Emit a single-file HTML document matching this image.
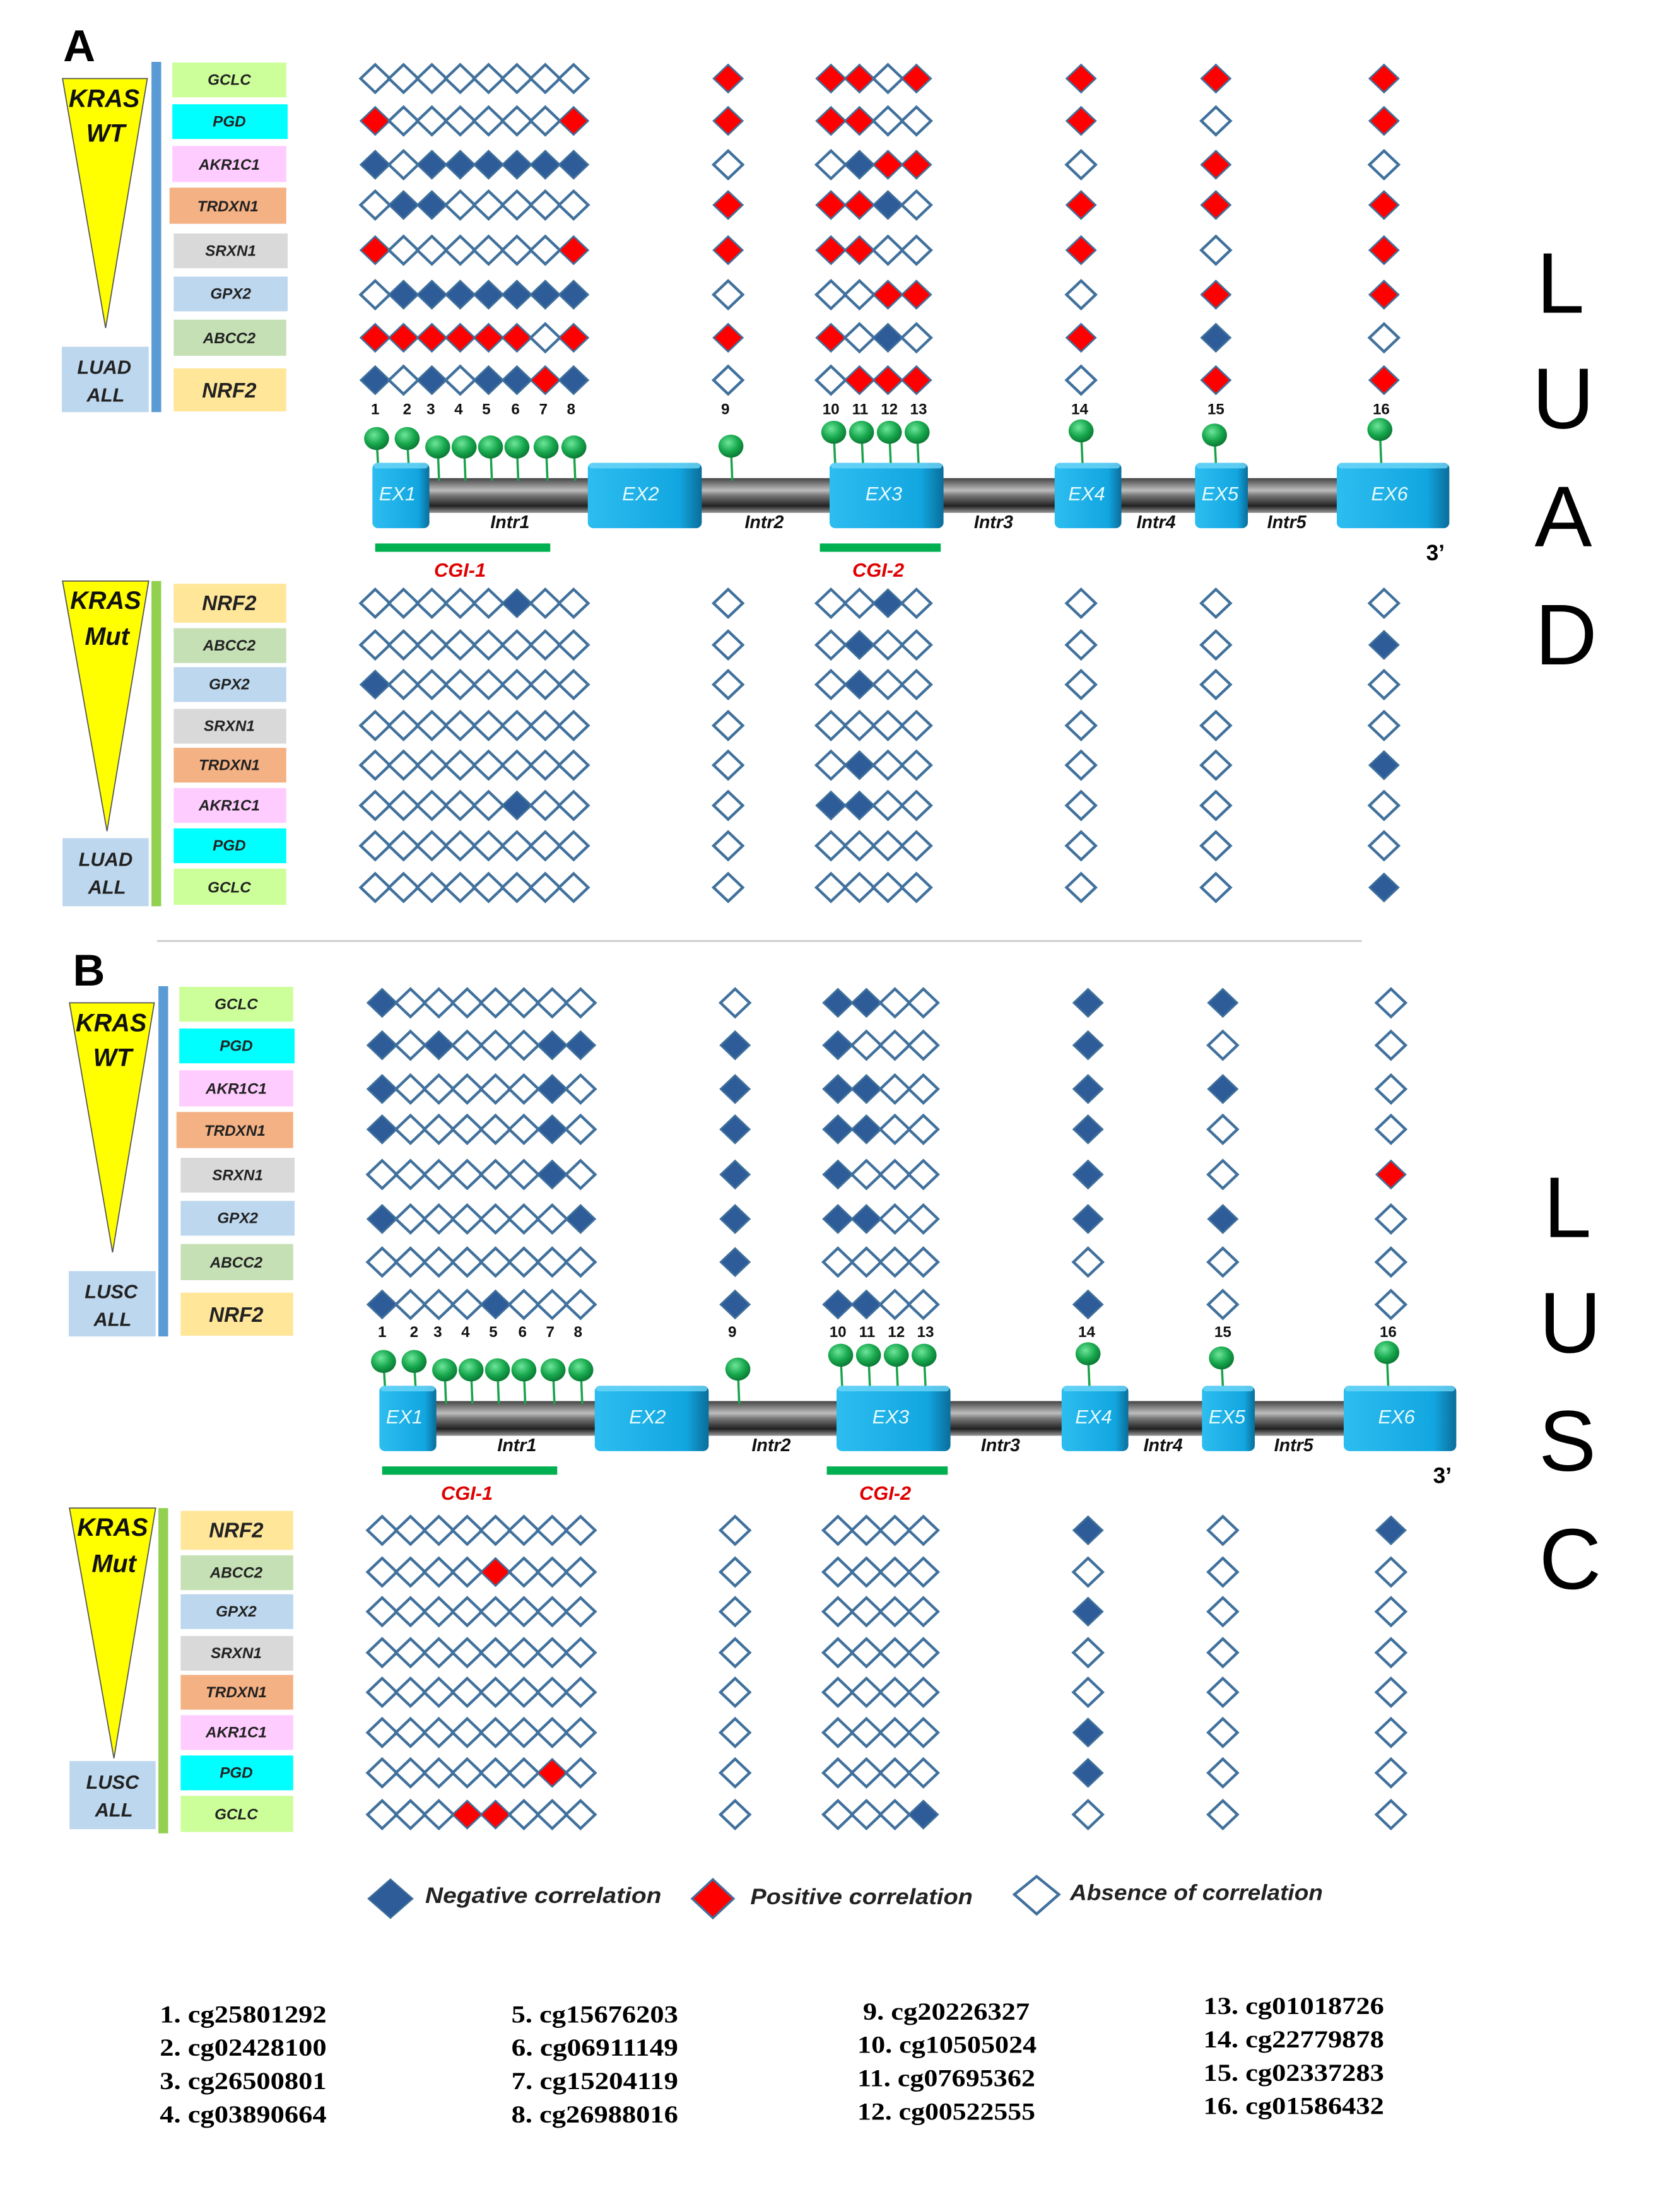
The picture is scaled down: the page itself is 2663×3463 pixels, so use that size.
<!DOCTYPE html>
<html><head><meta charset="utf-8">
<style>
html,body{margin:0;padding:0;background:#fff;}
svg{display:block;}
text{font-family:"Liberation Sans",sans-serif;}
.g{font-weight:bold;font-style:italic;font-size:11px;fill:#222;text-anchor:middle;}
.gb{font-weight:bold;font-style:italic;font-size:15px;fill:#222;text-anchor:middle;}
.num{font-weight:bold;font-size:11px;fill:#111;text-anchor:middle;}
.ex{font-style:italic;font-size:14px;fill:#e6fbff;text-anchor:middle;}
.in{font-weight:bold;font-style:italic;font-size:13px;fill:#111;text-anchor:middle;}
.cgi{font-weight:bold;font-style:italic;font-size:14px;fill:#e00000;text-anchor:middle;}
.tri{font-weight:bold;font-style:italic;font-size:18px;fill:#111;text-anchor:middle;}
.all{font-weight:bold;font-style:italic;font-size:14px;fill:#222;text-anchor:middle;}
.big{font-size:62px;fill:#000;text-anchor:middle;}
.leg{font-weight:bold;font-style:italic;font-size:16px;fill:#222;}
.cg{font-family:"Liberation Serif",serif;font-weight:bold;font-size:18px;fill:#000;}
</style></head>
<body>
<svg id="s" width="2663" height="3463" viewBox="0 0 1209 1572" preserveAspectRatio="none" xmlns="http://www.w3.org/2000/svg">
<defs>
<linearGradient id="bar" x1="0" y1="0" x2="0" y2="1">
<stop offset="0" stop-color="#444"/><stop offset="0.35" stop-color="#bdbdbd"/><stop offset="0.5" stop-color="#777"/><stop offset="0.8" stop-color="#222"/><stop offset="1" stop-color="#999"/></linearGradient>
<linearGradient id="exg" x1="0" y1="0" x2="1" y2="0">
<stop offset="0" stop-color="#2dbdf0"/><stop offset="0.8" stop-color="#12a6e0"/><stop offset="1" stop-color="#0a6d9a"/></linearGradient>
<radialGradient id="head" cx="0.4" cy="0.35" r="0.65">
<stop offset="0" stop-color="#6ee69a"/><stop offset="0.6" stop-color="#18a84e"/><stop offset="1" stop-color="#0b7a35"/></radialGradient>
</defs>
<rect width="1209" height="1572" fill="#fff"/>

<g id="pA">
<text x="57" y="44" style="font-weight:bold;font-size:32px;text-anchor:middle">A</text>
<polygon points="45,56.5 106,56.5 76,236" fill="#ffff00" stroke="#555" stroke-width="0.8"/>
<text class="tri" x="75" y="77">KRAS</text>
<text class="tri" x="76" y="102">WT</text>
<rect x="109" y="44.5" width="7" height="252" fill="#5b9bd5"/>
<rect x="44.5" y="249.5" width="62.5" height="47" fill="#bdd7ee"/>
<text class="all" x="75" y="269">LUAD</text><text class="all" x="76" y="289">ALL</text>
<rect x="124" y="45" width="82" height="25" fill="#ccff99"/><text class="g" x="165" y="61">GCLC</text>
<rect x="124" y="75" width="83" height="25" fill="#00ffff"/><text class="g" x="165" y="91">PGD</text>
<rect x="124" y="105" width="82" height="26" fill="#ffccff"/><text class="g" x="165" y="122">AKR1C1</text>
<rect x="122" y="135" width="84" height="26" fill="#f4b183"/><text class="g" x="164" y="152">TRDXN1</text>
<rect x="125" y="168" width="82" height="25" fill="#d9d9d9"/><text class="g" x="166" y="184">SRXN1</text>
<rect x="125" y="199" width="82" height="25" fill="#bdd7ee"/><text class="g" x="166" y="215">GPX2</text>
<rect x="125" y="230" width="81" height="26" fill="#c5e0b4"/><text class="g" x="165" y="247">ABCC2</text>
<rect x="125" y="265" width="81" height="31" fill="#ffe699"/><text class="gb" x="165" y="286">NRF2</text>
<polygon points="45,418 107,418 77,598" fill="#ffff00" stroke="#555" stroke-width="0.8"/>
<text class="tri" x="76" y="438">KRAS</text>
<text class="tri" x="77" y="464">Mut</text>
<rect x="109" y="418" width="7" height="234" fill="#92d050"/>
<rect x="45" y="603" width="62" height="49" fill="#bdd7ee"/>
<text class="all" x="76" y="623">LUAD</text><text class="all" x="77" y="643">ALL</text>
<rect x="125" y="420" width="81" height="28" fill="#ffe699"/><text class="gb" x="165" y="439">NRF2</text>
<rect x="125" y="452" width="81" height="25" fill="#c5e0b4"/><text class="g" x="165" y="468">ABCC2</text>
<rect x="125" y="480" width="81" height="25" fill="#bdd7ee"/><text class="g" x="165" y="496">GPX2</text>
<rect x="125" y="510" width="81" height="25" fill="#d9d9d9"/><text class="g" x="165" y="526">SRXN1</text>
<rect x="125" y="538" width="81" height="25" fill="#f4b183"/><text class="g" x="165" y="554">TRDXN1</text>
<rect x="125" y="567" width="81" height="25" fill="#ffccff"/><text class="g" x="165" y="583">AKR1C1</text>
<rect x="125" y="596" width="81" height="25" fill="#00ffff"/><text class="g" x="165" y="612">PGD</text>
<rect x="125" y="625" width="81" height="26" fill="#ccff99"/><text class="g" x="165" y="642">GCLC</text>
<g class="numg">
<text class="num" x="270" y="298">1</text><text class="num" x="293" y="298">2</text><text class="num" x="310" y="298">3</text><text class="num" x="330" y="298">4</text><text class="num" x="350" y="298">5</text><text class="num" x="371" y="298">6</text><text class="num" x="391" y="298">7</text><text class="num" x="411" y="298">8</text><text class="num" x="522" y="298">9</text><text class="num" x="598" y="298">10</text><text class="num" x="619" y="298">11</text><text class="num" x="640" y="298">12</text><text class="num" x="661" y="298">13</text><text class="num" x="777" y="298">14</text><text class="num" x="875" y="298">15</text><text class="num" x="994" y="298">16</text>
</g>
<g id="structA"></g>
<text class="in" x="367" y="380">Intr1</text><text class="in" x="550" y="380">Intr2</text><text class="in" x="715" y="380">Intr3</text><text class="in" x="832" y="380">Intr4</text><text class="in" x="926" y="380">Intr5</text>
<rect x="270" y="391" width="126" height="6" fill="#00b050"/>
<rect x="590" y="391" width="87" height="6" fill="#00b050"/>
<text class="cgi" x="331" y="415">CGI-1</text><text class="cgi" x="632" y="415">CGI-2</text>
<text x="1033" y="403" style="font-weight:bold;font-size:16px;text-anchor:middle">3’</text>
<g id="diaA"></g>
</g>

<line x1="113" y1="677" x2="980" y2="677" stroke="#bfbfbf" stroke-width="1"/>

<g transform="translate(5,665)">
<text x="59" y="44" style="font-weight:bold;font-size:32px;text-anchor:middle">B</text>
<polygon points="45,56.5 106,56.5 76,236" fill="#ffff00" stroke="#555" stroke-width="0.8"/>
<text class="tri" x="75" y="77">KRAS</text>
<text class="tri" x="76" y="102">WT</text>
<rect x="109" y="44.5" width="7" height="252" fill="#5b9bd5"/>
<rect x="44.5" y="249.5" width="62.5" height="47" fill="#bdd7ee"/>
<text class="all" x="75" y="269">LUSC</text><text class="all" x="76" y="289">ALL</text>
<rect x="124" y="45" width="82" height="25" fill="#ccff99"/><text class="g" x="165" y="61">GCLC</text>
<rect x="124" y="75" width="83" height="25" fill="#00ffff"/><text class="g" x="165" y="91">PGD</text>
<rect x="124" y="105" width="82" height="26" fill="#ffccff"/><text class="g" x="165" y="122">AKR1C1</text>
<rect x="122" y="135" width="84" height="26" fill="#f4b183"/><text class="g" x="164" y="152">TRDXN1</text>
<rect x="125" y="168" width="82" height="25" fill="#d9d9d9"/><text class="g" x="166" y="184">SRXN1</text>
<rect x="125" y="199" width="82" height="25" fill="#bdd7ee"/><text class="g" x="166" y="215">GPX2</text>
<rect x="125" y="230" width="81" height="26" fill="#c5e0b4"/><text class="g" x="165" y="247">ABCC2</text>
<rect x="125" y="265" width="81" height="31" fill="#ffe699"/><text class="gb" x="165" y="286">NRF2</text>
<g transform="translate(0,2)">
<polygon points="45,418 107,418 77,598" fill="#ffff00" stroke="#555" stroke-width="0.8"/>
<text class="tri" x="76" y="438">KRAS</text>
<text class="tri" x="77" y="464">Mut</text>
<rect x="109" y="418" width="7" height="234" fill="#92d050"/>
<rect x="45" y="600" width="62" height="49" fill="#bdd7ee"/>
<text class="all" x="76" y="620">LUSC</text><text class="all" x="77" y="640">ALL</text>
<rect x="125" y="420" width="81" height="28" fill="#ffe699"/><text class="gb" x="165" y="439">NRF2</text>
<rect x="125" y="452" width="81" height="25" fill="#c5e0b4"/><text class="g" x="165" y="468">ABCC2</text>
<rect x="125" y="480" width="81" height="25" fill="#bdd7ee"/><text class="g" x="165" y="496">GPX2</text>
<rect x="125" y="510" width="81" height="25" fill="#d9d9d9"/><text class="g" x="165" y="526">SRXN1</text>
<rect x="125" y="538" width="81" height="25" fill="#f4b183"/><text class="g" x="165" y="554">TRDXN1</text>
<rect x="125" y="567" width="81" height="25" fill="#ffccff"/><text class="g" x="165" y="583">AKR1C1</text>
<rect x="125" y="596" width="81" height="25" fill="#00ffff"/><text class="g" x="165" y="612">PGD</text>
<rect x="125" y="625" width="81" height="26" fill="#ccff99"/><text class="g" x="165" y="642">GCLC</text>
</g>
<g transform="translate(0,-1)">
<text class="num" x="270" y="298">1</text><text class="num" x="293" y="298">2</text><text class="num" x="310" y="298">3</text><text class="num" x="330" y="298">4</text><text class="num" x="350" y="298">5</text><text class="num" x="371" y="298">6</text><text class="num" x="391" y="298">7</text><text class="num" x="411" y="298">8</text><text class="num" x="522" y="298">9</text><text class="num" x="598" y="298">10</text><text class="num" x="619" y="298">11</text><text class="num" x="640" y="298">12</text><text class="num" x="661" y="298">13</text><text class="num" x="777" y="298">14</text><text class="num" x="875" y="298">15</text><text class="num" x="994" y="298">16</text>
<g id="structB"></g>
<text class="in" x="367" y="380">Intr1</text><text class="in" x="550" y="380">Intr2</text><text class="in" x="715" y="380">Intr3</text><text class="in" x="832" y="380">Intr4</text><text class="in" x="926" y="380">Intr5</text>
<rect x="270" y="391" width="126" height="6" fill="#00b050"/>
<rect x="590" y="391" width="87" height="6" fill="#00b050"/>
<text class="cgi" x="331" y="415">CGI-1</text><text class="cgi" x="632" y="415">CGI-2</text>
<text x="1033" y="403" style="font-weight:bold;font-size:16px;text-anchor:middle">3’</text>
</g>
<g id="diaB"></g>
</g>

<text class="big" x="1123" y="225">L</text>
<text class="big" x="1125" y="308">U</text>
<text class="big" x="1125" y="393">A</text>
<text class="big" x="1127" y="478">D</text>
<text class="big" x="1128" y="890">L</text>
<text class="big" x="1130" y="973">U</text>
<text class="big" x="1128" y="1058">S</text>
<text class="big" x="1130" y="1143">C</text>

<polygon points="281,1352 297,1366 281,1380 265,1366" fill="#2e5c98" stroke="#41719c" stroke-width="1"/>
<text class="leg" x="306" y="1369" textLength="170" lengthAdjust="spacingAndGlyphs">Negative correlation</text>
<polygon points="513,1352 528,1366 513,1380 498,1366" fill="#ff0000" stroke="#41719c" stroke-width="1.5"/>
<text class="leg" x="540" y="1370" textLength="160" lengthAdjust="spacingAndGlyphs">Positive correlation</text>
<polygon points="746,1350 762,1363 746,1377 730,1363" fill="#fff" stroke="#41719c" stroke-width="2"/>
<text class="leg" x="770" y="1367" textLength="182" lengthAdjust="spacingAndGlyphs">Absence of correlation</text>

<g class="cg">
<text class="cg" x="115" y="1455" textLength="120" lengthAdjust="spacingAndGlyphs">1. cg25801292</text>
<text class="cg" x="115" y="1479" textLength="120" lengthAdjust="spacingAndGlyphs">2. cg02428100</text>
<text class="cg" x="115" y="1503" textLength="120" lengthAdjust="spacingAndGlyphs">3. cg26500801</text>
<text class="cg" x="115" y="1527" textLength="120" lengthAdjust="spacingAndGlyphs">4. cg03890664</text>
<text class="cg" x="368" y="1455" textLength="120" lengthAdjust="spacingAndGlyphs">5. cg15676203</text>
<text class="cg" x="368" y="1479" textLength="120" lengthAdjust="spacingAndGlyphs">6. cg06911149</text>
<text class="cg" x="368" y="1503" textLength="120" lengthAdjust="spacingAndGlyphs">7. cg15204119</text>
<text class="cg" x="368" y="1527" textLength="120" lengthAdjust="spacingAndGlyphs">8. cg26988016</text>
<text class="cg" x="621" y="1453" textLength="120" lengthAdjust="spacingAndGlyphs">9. cg20226327</text>
<text class="cg" x="617" y="1477" textLength="129" lengthAdjust="spacingAndGlyphs">10. cg10505024</text>
<text class="cg" x="617" y="1501" textLength="128" lengthAdjust="spacingAndGlyphs">11. cg07695362</text>
<text class="cg" x="617" y="1525" textLength="128" lengthAdjust="spacingAndGlyphs">12. cg00522555</text>
<text class="cg" x="866" y="1449" textLength="130" lengthAdjust="spacingAndGlyphs">13. cg01018726</text>
<text class="cg" x="866" y="1473" textLength="130" lengthAdjust="spacingAndGlyphs">14. cg22779878</text>
<text class="cg" x="866" y="1497" textLength="130" lengthAdjust="spacingAndGlyphs">15. cg02337283</text>
<text class="cg" x="866" y="1521" textLength="130" lengthAdjust="spacingAndGlyphs">16. cg01586432</text>
</g>
</svg>
<script>
(function(){
var NS="http://www.w3.org/2000/svg";
function el(t,a,p){var e=document.createElementNS(NS,t);for(var k in a)e.setAttribute(k,a[k]);p.appendChild(e);return e;}
var cols=[270,290.4,310.8,331.2,351.6,372,392.4,412.8,524,598,618.5,639,659.5,778,875,996];
function dia(p,x,y,t){
 var hw=10.5,hh=10;
 var fill=t=='b'?'#2e5c98':(t=='r'?'#ff0000':'#ffffff');
 el('polygon',{points:(x)+','+(y-hh)+' '+(x+hw)+','+y+' '+x+','+(y+hh)+' '+(x-hw)+','+y,fill:fill,stroke:'#41719c','stroke-width':t=='o'?2:1.2},p);
}
function grid(p,rows,data){
 for(var i=0;i<rows.length;i++){for(var j=0;j<16;j++){dia(p,cols[j],rows[i],data[i][j]);}}
}
var wtRows=[56.5,87,118.5,147.5,180,212,243,273.5];
var mutRows=[434,464,492.5,522,550.5,579.5,608.5,638.5];
var AWT=["oooooooorrrorrr","roooooorrrrooror","bobbbbbboobrroro","obbooooorrrborrr","roooooorrrrooror","obbbbbbbooorrorr","rrrrrrorrroborbo","bobobbrboorrrorr"];
AWT[0]="oooooooo"+"r"+"rror"+"rrr";
var AMUT=["oooooboooooboooo","ooooooooooboooob","boooooooooboooo","oooooooooooooooo","ooooooooooboooob","ooooobooobbooooo","oooooooooooooooo","ooooooooooooooob"];
AMUT[2]="booooooooooboooo".slice(0,16);
AMUT[2]="booooooo"+"o"+"oboo"+"ooo";
var BWT=["boooooooobboobbo","boboooobbboooboo","booooobobbboobbo","booooobobbbooboo","oooooobobbooobor","boooooobbbboobbo","oooooooobooooooo","booobooobbbooboo"];
BWT[1]="bobooobb"+"b"+"booo"+"boo";
BWT[3]="booooobo"+"b"+"bboo"+"boo";
BWT[7]="booobooo"+"b"+"bboo"+"boo";
var BMUT=["ooooooooooooobob","oooorooooooooooo","oooooooooooooboo","oooooooooooooooo","oooooooooooooooo","oooooooooooooboo","oooooorooooooboo","ooorroooooooboooo".slice(0,16)];
BMUT[7]="ooorrooo"+"o"+"ooob"+"ooo";
grid(document.getElementById('diaA'),wtRows,AWT);
grid(document.getElementById('diaA'),mutRows,AMUT);
grid(document.getElementById('diaB'),wtRows,BWT);
var mr2=mutRows.map(function(v){return v+2;});
grid(document.getElementById('diaB'),mr2,BMUT);
function struct(p){
 el('rect',{x:300,y:344,width:700,height:25,fill:'url(#bar)'},p);
 var ex=[[268,309,'EX1',286],[423,505,'EX2',461],[597,679,'EX3',636],[759,807,'EX4',782],[860,898,'EX5',878],[962,1043,'EX6',1000]];
 ex.forEach(function(e){
  el('rect',{x:e[0],y:333,width:e[1]-e[0],height:47,rx:4,fill:'url(#exg)'},p);
  el('rect',{x:e[0]+1,y:333,width:e[1]-e[0]-2,height:4,rx:2,fill:'#6fd6f8',opacity:0.8},p);
  var t=el('text',{x:e[3],y:360,'class':'ex'},p);t.textContent=e[2];
 });
 var L=[[271,315.5,333],[293,315.5,333],[315,321.6,346],[334,321.6,346],[353,321.6,346],[372,321.6,346],[393,321.6,346],[413,321.6,346],[526,321,346],[600,311,333],[620,311,333],[640,311,333],[660,311,333],[778,310,333],[874,313,333],[993,309,333]];
 L.forEach(function(l){el('line',{x1:l[0],y1:l[1],x2:l[0]+1,y2:l[2],stroke:'#19a34a','stroke-width':1.6},p);});
 L.forEach(function(l){el('ellipse',{cx:l[0],cy:l[1],rx:9,ry:8.3,fill:'url(#head)'},p);});
}
struct(document.getElementById('structA'));
struct(document.getElementById('structB'));
})();
</script>
</body></html>
